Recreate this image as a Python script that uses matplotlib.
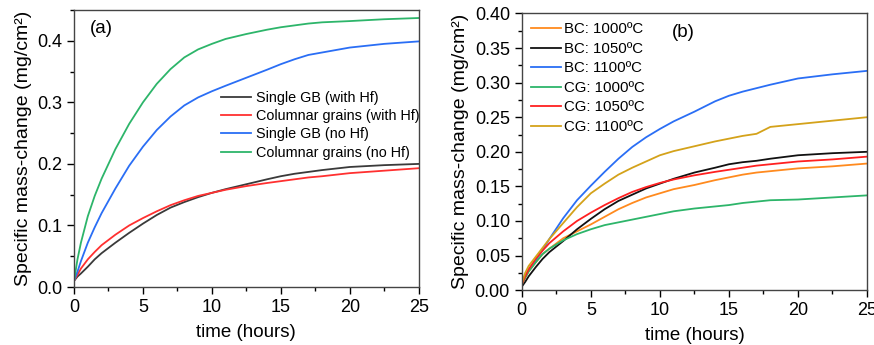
import matplotlib
matplotlib.use("Agg")
import matplotlib.pyplot as plt
from matplotlib.ticker import MultipleLocator

plt.rcParams['font.family'] = ['Liberation Sans', 'DejaVu Sans']

# time axis shared by every curve (hours)
t = [0, 0.25, 0.5, 1, 1.5, 2, 3, 4, 5, 6, 7, 8, 9, 10, 11, 12.5,
     14, 15, 16, 17, 18, 20, 22.5, 25]

# panel (a)
a_labels = ["Single GB (with Hf)", "Columnar grains (with Hf)",
            "Single GB (no Hf)", "Columnar grains (no Hf)"]
a_single_hf = [0.01, 0.017, 0.022, 0.033, 0.045, 0.055, 0.072, 0.088, 0.103, 0.117,
               0.129, 0.138, 0.146, 0.153, 0.159, 0.167, 0.175, 0.18, 0.184, 0.187,
               0.19, 0.195, 0.198, 0.2]
a_columnar_hf = [0.01, 0.02, 0.03, 0.045, 0.057, 0.068, 0.085, 0.1, 0.112, 0.123,
                 0.133, 0.141, 0.148, 0.153, 0.158, 0.164, 0.169, 0.172, 0.175, 0.178,
                 0.18, 0.185, 0.189, 0.193]
a_single_nohf = [0.01, 0.025, 0.042, 0.072, 0.097, 0.12, 0.16, 0.197, 0.228, 0.255,
                 0.277, 0.295, 0.308, 0.318, 0.327, 0.34, 0.353, 0.362, 0.37, 0.377,
                 0.381, 0.389, 0.395, 0.399]
a_columnar_nohf = [0.01, 0.045, 0.072, 0.115, 0.148, 0.176, 0.224, 0.265, 0.3, 0.33,
                   0.354, 0.373, 0.386, 0.395, 0.403, 0.411, 0.418, 0.422, 0.425, 0.428,
                   0.43, 0.432, 0.435, 0.437]

# panel (b)
b_labels = ["BC: 1000ºC", "BC: 1050ºC", "BC: 1100ºC",
            "CG: 1000ºC", "CG: 1050ºC", "CG: 1100ºC"]
bc_1000 = [0.008, 0.018, 0.027, 0.04, 0.052, 0.06, 0.075, 0.085, 0.095, 0.106,
           0.117, 0.126, 0.134, 0.14, 0.146, 0.152, 0.159, 0.163, 0.167, 0.17,
           0.172, 0.176, 0.179, 0.183]
bc_1050 = [0.005, 0.012, 0.02, 0.033, 0.045, 0.055, 0.071, 0.088, 0.103, 0.117,
           0.129, 0.138, 0.147, 0.154, 0.161, 0.17, 0.177, 0.182, 0.185, 0.187,
           0.19, 0.195, 0.198, 0.2]
bc_1100 = [0.01, 0.02, 0.03, 0.043, 0.058, 0.074, 0.104, 0.13, 0.151, 0.171,
           0.19, 0.207, 0.221, 0.233, 0.244, 0.258, 0.273, 0.281, 0.287, 0.292,
           0.297, 0.306, 0.312, 0.317]
cg_1000 = [0.008, 0.018, 0.027, 0.04, 0.052, 0.06, 0.072, 0.081, 0.088, 0.094,
           0.098, 0.102, 0.106, 0.11, 0.114, 0.118, 0.121, 0.123, 0.126, 0.128,
           0.13, 0.131, 0.134, 0.137]
cg_1050 = [0.008, 0.02, 0.03, 0.045, 0.057, 0.068, 0.085, 0.1, 0.112, 0.123,
           0.133, 0.142, 0.149, 0.155, 0.16, 0.166, 0.171, 0.174, 0.177, 0.18,
           0.182, 0.186, 0.189, 0.193]
cg_1100 = [0.01, 0.025, 0.035, 0.048, 0.061, 0.074, 0.097, 0.12, 0.14, 0.154,
           0.167, 0.177, 0.186, 0.195, 0.201, 0.208, 0.215, 0.219, 0.223, 0.226,
           0.236, 0.24, 0.245, 0.25]


def style_axes(ax, ymax, ymajor, yfmt):
    ax.set_xlim(0, 25)
    ax.set_ylim(0, ymax)
    ax.xaxis.set_major_locator(MultipleLocator(5))
    ax.xaxis.set_minor_locator(MultipleLocator(2.5))
    ax.yaxis.set_major_locator(MultipleLocator(ymajor))
    ax.yaxis.set_minor_locator(MultipleLocator(ymajor / 2))
    ax.yaxis.set_major_formatter(yfmt)
    ax.tick_params(which='major', direction='out', length=5, width=1, labelsize=13)
    ax.tick_params(which='minor', direction='out', length=3, width=1)
    for s in ax.spines.values():
        s.set_linewidth(1.0)
        s.set_color('#444444')
    ax.set_xlabel("time (hours)", fontsize=13.5, labelpad=6)
    ax.set_ylabel("Specific mass-change (mg/cm²)", fontsize=14, labelpad=4)


fig = plt.figure(figsize=(8.74, 3.45), dpi=100)
ax1 = fig.add_axes([0.0847, 0.168, 0.3943, 0.803])
ax2 = fig.add_axes([0.597, 0.159, 0.395, 0.802])

lw = 1.3
ax1.plot(t, a_single_hf, color='#3a3a3a', lw=lw, label=a_labels[0])
ax1.plot(t, a_columnar_hf, color='#ff3030', lw=lw, label=a_labels[1])
ax1.plot(t, a_single_nohf, color='#2a6ef5', lw=lw, label=a_labels[2])
ax1.plot(t, a_columnar_nohf, color='#2db56a', lw=lw, label=a_labels[3])
style_axes(ax1, 0.45, 0.1, '{x:.1f}')
ax1.text(0.045, 0.935, "(a)", transform=ax1.transAxes, fontsize=13.5, va='center')
ax1.legend(loc='upper left', bbox_to_anchor=(0.41, 0.73), frameon=False,
           fontsize=10.4, handlelength=2.1, handletextpad=0.3, labelspacing=0.3,
           borderaxespad=0)

ax2.plot(t, bc_1000, color='#ff8a1e', lw=lw, label=b_labels[0])
ax2.plot(t, bc_1050, color='#111111', lw=lw, label=b_labels[1])
ax2.plot(t, bc_1100, color='#2a6ef5', lw=lw, label=b_labels[2])
ax2.plot(t, cg_1000, color='#2db56a', lw=lw, label=b_labels[3])
ax2.plot(t, cg_1050, color='#ff2020', lw=lw, label=b_labels[4])
ax2.plot(t, cg_1100, color='#d4a21a', lw=lw, label=b_labels[5])
style_axes(ax2, 0.40, 0.05, '{x:.2f}')
ax2.text(0.435, 0.93, "(b)", transform=ax2.transAxes, fontsize=13.5, va='center')
ax2.legend(loc='upper left', bbox_to_anchor=(0.008, 0.99), frameon=False,
           fontsize=10.8, handlelength=2.0, handletextpad=0.2, labelspacing=0.37,
           borderaxespad=0)

fig.savefig("out.png", dpi=100)
